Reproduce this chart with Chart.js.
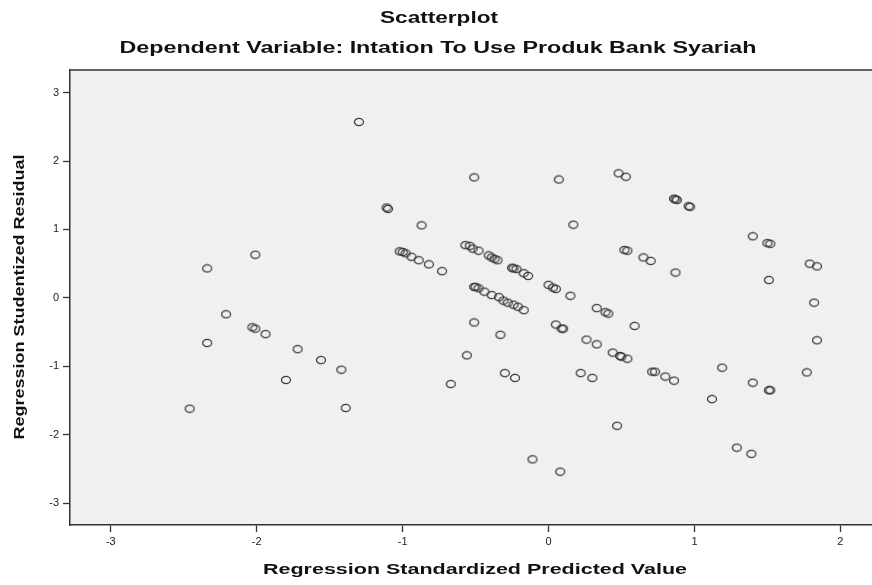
<!DOCTYPE html>
<html>
<head>
<meta charset="utf-8">
<script src="https://cdn.jsdelivr.net/npm/chart.js@4/dist/chart.umd.min.js"></script>
<style>
  html, body { margin: 0; padding: 0; background: #fff; }
  #wrap { width: 872px; height: 585px; }
</style>
</head>
<body>
<div id="wrap"><canvas id="grafico" width="872" height="585"></canvas></div>
<script>
const titulo = "Scatterplot";
const subtitulo = "Dependent Variable: Intation To Use Produk Bank Syariah";
const tituloX = "Regression Standardized Predicted Value";
const tituloY = "Regression Studentized Residual";

const ticksX = [-3, -2, -1, 0, 1, 2];
const ticksY = [-3, -2, -1, 0, 1, 2, 3];

// Regression Standardized Predicted Value
const predicho = [
  -1.30, -2.01, -2.34, -0.51, 0.07, 0.48, 0.53, -1.11, -1.10, -0.87, 0.17, 0.86, 0.87, 0.88, 0.97, 0.96, 1.40, 1.50, 1.52, 0.52, 0.54, 0.65, 0.70, 0.87, 1.79, 1.84, 1.51,
  -1.02, -1.00, -0.98, -0.94, -0.89, -0.82, -0.73,
  -0.57, -0.54, -0.52, -0.48, -0.41, -0.39, -0.37, -0.35,
  -0.25, -0.24, -0.22, -0.17, -0.14,
  -0.51, -0.50, -0.48, -0.44, -0.39, -0.34, -0.31, -0.28, -0.24, -0.21, -0.17,
  0.00, 0.03, 0.05, 0.15, 0.33, 0.39, 0.41, -0.51, -0.33, 0.05, 0.09, 0.10, 0.59, 0.26, 0.33, 0.44, 0.49, 0.50, 0.54, -0.56, -0.30, -0.23, 0.22, 0.30, -0.67, 0.71, 0.73, 0.80, 0.86, 1.19, 1.12, 1.40, 1.51, 1.52, 1.77, 1.82, 1.84, 1.29, 1.39, 0.47, -0.11, 0.08,
  -2.21, -2.03, -2.01, -1.94, -2.34, -1.72, -1.56, -1.42, -1.80, -2.46, -1.39
];

// Regression Studentized Residual
const residuo = [
  2.57, 0.63, 0.43, 1.76, 1.73, 1.82, 1.77, 1.32, 1.30, 1.06, 1.07, 1.45, 1.44, 1.43, 1.33, 1.34, 0.90, 0.80, 0.79, 0.70, 0.69, 0.59, 0.54, 0.37, 0.50, 0.46, 0.26,
  0.68, 0.67, 0.65, 0.60, 0.55, 0.49, 0.39,
  0.77, 0.76, 0.72, 0.69, 0.62, 0.59, 0.57, 0.55,
  0.44, 0.43, 0.42, 0.36, 0.32,
  0.16, 0.16, 0.14, 0.09, 0.04, 0.01, -0.04, -0.07, -0.10, -0.13, -0.18,
  0.19, 0.15, 0.13, 0.03, -0.15, -0.21, -0.23, -0.36, -0.54, -0.39, -0.45, -0.45, -0.41, -0.61, -0.68, -0.80, -0.85, -0.86, -0.89, -0.84, -1.10, -1.17, -1.10, -1.17, -1.26, -1.08, -1.08, -1.15, -1.21, -1.02, -1.48, -1.24, -1.35, -1.35, -1.09, -0.07, -0.62, -2.19, -2.28, -1.87, -2.36, -2.54,
  -0.24, -0.43, -0.45, -0.53, -0.66, -0.75, -0.91, -1.05, -1.20, -1.62, -1.61
];

const puntos = predicho.map((x, i) => ({ x: x, y: residuo[i] }));

// marcador: circulo abierto un poco ovalado como en SPSS
const marcador = document.createElement("canvas");
marcador.width = 12;
marcador.height = 10;
const mctx = marcador.getContext("2d");
mctx.strokeStyle = "#3a3a3a";
mctx.lineWidth = 1.2;
mctx.beginPath();
mctx.ellipse(6, 5, 4.5, 3.6, 0, 0, Math.PI * 2);
mctx.stroke();

// texto estirado a lo ancho (SPSS dibuja las letras mas anchas)
function textoAncho(ctx, texto, fuente, cx, cy, ancho, rotar) {
  ctx.save();
  ctx.font = fuente;
  ctx.fillStyle = "#111";
  ctx.textAlign = "center";
  ctx.textBaseline = "middle";
  const medida = ctx.measureText(texto).width;
  ctx.translate(cx, cy);
  if (rotar) ctx.rotate(-Math.PI / 2);
  ctx.scale(ancho / medida, 1);
  ctx.fillText(texto, 0, 0);
  ctx.restore();
}

const fondoPlugin = {
  id: "fondo",
  beforeDraw(chart) {
    const { ctx, chartArea: a } = chart;
    ctx.save();
    ctx.fillStyle = "#f0f0f0";
    ctx.fillRect(a.left, a.top, a.right - a.left, a.bottom - a.top);
    ctx.restore();
  },
  afterDraw(chart) {
    const { ctx, chartArea: a } = chart;
    ctx.save();
    ctx.strokeStyle = "#333";
    ctx.lineWidth = 1.5;
    ctx.beginPath();
    ctx.moveTo(a.left, a.top);
    ctx.lineTo(a.right, a.top);
    ctx.stroke();
    ctx.restore();

    textoAncho(ctx, titulo, "bold 16px 'Liberation Sans'", 439, 19, 118, false);
    textoAncho(ctx, subtitulo, "bold 16px 'Liberation Sans'", 438, 49, 637, false);
    textoAncho(ctx, tituloX, "bold 15px 'Liberation Sans'", 475, 570, 424, false);
    textoAncho(ctx, tituloY, "bold 15px 'Liberation Sans'", 20, 297, 285, true);
  }
};

new Chart(document.getElementById("grafico"), {
  type: "scatter",
  data: {
    datasets: [{
      data: puntos,
      pointStyle: marcador,
      pointRadius: 5,
      showLine: false
    }]
  },
  options: {
    responsive: false,
    animation: false,
    events: [],
    layout: { autoPadding: false, padding: { top: 70, right: 0, left: 0, bottom: 0 } },
    plugins: {
      legend: { display: false },
      tooltip: { enabled: false }
    },
    scales: {
      x: {
        type: "linear",
        min: -3.28,
        max: 2.217,
        afterBuildTicks: (s) => { s.ticks = ticksX.map(v => ({ value: v })); },
        afterFit: (s) => { s.height = 60; },
        grid: { drawOnChartArea: false, tickLength: 7, tickColor: "#333", tickWidth: 1.3 },
        border: { color: "#333", width: 1.5 },
        ticks: { color: "#222", padding: 3, font: { family: "'Liberation Sans'", size: 11 } }
      },
      y: {
        type: "linear",
        min: -3.32,
        max: 3.33,
        afterBuildTicks: (s) => { s.ticks = ticksY.map(v => ({ value: v })); },
        afterFit: (s) => { s.width = 70; },
        grid: { drawOnChartArea: false, tickLength: 7, tickColor: "#333", tickWidth: 1.3 },
        border: { color: "#333", width: 1.5 },
        ticks: { color: "#222", padding: 4, font: { family: "'Liberation Sans'", size: 11 } }
      }
    }
  },
  plugins: [fondoPlugin]
});
</script>
</body>
</html>
